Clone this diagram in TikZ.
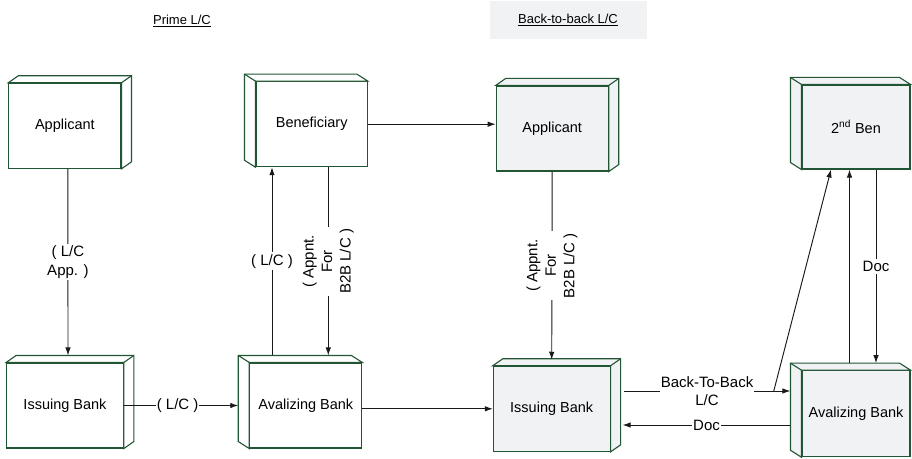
\documentclass[tikz,border=0pt]{standalone}
\usepackage{fontspec}
\setmainfont{Liberation Sans}
\usetikzlibrary{arrows.meta,positioning,calc}
\definecolor{boxgreen}{RGB}{34,85,52}
\definecolor{btbgrey}{RGB}{241,242,244}

\begin{document}
\begin{tikzpicture}[
    x=1pt, y=1pt,
    font=\fontsize{14.5}{18}\selectfont,
    blk/.style={draw=boxgreen, line width=1.1pt, minimum width=112pt, minimum height=85pt, inner sep=0pt},
    prime/.style={blk, fill=white},
    btb/.style={blk, fill=btbgrey},
    conn/.style={draw=black!90, line width=0.95pt, -{Latex[length=8pt,width=5.5pt]}},
    lbl/.style={fill=white, inner sep=2pt, align=center, font=\fontsize{15}{18.5}\selectfont},
    head/.style={font=\fontsize{13}{15}\selectfont}
]
    \useasboundingbox (0,0) rectangle (912,458);

    % Headings
    \node[head] (hprime) at (182,437) {\underline{Prime L/C}};
    \node[head, fill=btbgrey, minimum width=157pt, minimum height=38pt] (hbtb) at (568,438) {\underline{Back-to-back L/C}};

    % Prime L/C
    \node[prime] (app1) at (64.9,332.2) {Applicant};
    \node[prime, minimum width=116.6pt] (ib1) at (65,52.5) {Issuing Bank};
    \node[prime, minimum width=111.3pt] (ben) at (311.7,333.8) {Beneficiary};
    \node[prime] (av1) at (305.8,52.5) {Avalizing Bank};

    % Back-to-back L/C
    \node[btb] (app2) at (552.2,329.5) {Applicant};
    \node[btb, minimum width=116.7pt] (ib2) at (551.7,49.2) {Issuing Bank};
    \node[btb, minimum width=108pt, minimum height=84pt] (ben2) at (856,331) {2\textsuperscript{nd} Ben};
    \node[btb, minimum width=108pt, minimum height=86pt] (av2) at (856,44.3) {Avalizing Bank};

    % depth faces
    \foreach \n/\f in {app1/white,ib1/white,app2/btbgrey,ib2/btbgrey} {
        \draw[boxgreen, line width=1.1pt, fill=\f] (\n.north west) -- ++(10,7) -- ([shift={(10,7)}]\n.north east)
            -- ([shift={(10,7)}]\n.south east) -- (\n.south east) -- (\n.north east) -- cycle;
        \draw[boxgreen, line width=1.1pt] (\n.north east) -- ++(10,7);
    }
    \foreach \n/\f in {ben/white,av1/white,ben2/btbgrey,av2/btbgrey} {
        \draw[boxgreen, line width=1.1pt, fill=\f] (\n.north east) -- ++(-11,7) -- ([shift={(-11,7)}]\n.north west)
            -- ([shift={(-11,7)}]\n.south west) -- (\n.south west) -- (\n.north west) -- cycle;
        \draw[boxgreen, line width=1.1pt] (\n.north west) -- ++(-11,7);
    }

    % Prime L/C flows
    \draw[conn] ([xshift=3pt]app1.south) -- node[lbl] {( L/C\\App. )} ([xshift=3pt,yshift=7pt]ib1.north);
    \draw[conn] (ib1.east) -- node[lbl, pos=0.47, inner xsep=1pt] {( L/C )} ([xshift=-11pt]av1.west);
    \draw[conn] ([xshift=-33.8pt,yshift=7pt]av1.north) -- node[lbl] {( L/C )} ([xshift=-39.7pt]ben.south);
    \draw[conn] ([xshift=16.6pt]ben.south) -- node[lbl, rotate=90] {( Appnt.\\For\\B2B L/C )} ([xshift=22.5pt,yshift=7pt]av1.north);
    \draw[conn] (ben.east) -- (ben.east -| app2.west);
    \draw[conn] (ib2.west -| av1.east) -- (ib2.west);

    % Back-to-back flows
    \draw[conn] (app2.south) -- node[lbl, rotate=90] {( Appnt.\\For\\B2B L/C )} ([yshift=6pt]ib2.north);
    \draw[conn] ([xshift=13pt,yshift=17.8pt]ib2.east) -- node[lbl, inner xsep=1pt] {Back-To-Back\\L/C}
        coordinate[pos=0.9] (split) ([xshift=-11pt,yshift=22.7pt]av2.west);
    \draw[conn] ([xshift=-11pt,yshift=-11.3pt]av2.west) -- node[lbl, inner xsep=1pt] {Doc} ([xshift=12pt,yshift=-16.2pt]ib2.east);
    \draw[conn] (split) -- ([xshift=-25pt]ben2.south);
    \draw[conn] ([xshift=-6.5pt,yshift=7pt]av2.north) -- ([xshift=-6.5pt]ben2.south);
    \draw[conn] ([xshift=20pt]ben2.south) -- node[lbl] {Doc} ([xshift=20pt,yshift=7pt]av2.north);
\end{tikzpicture}
\end{document}
